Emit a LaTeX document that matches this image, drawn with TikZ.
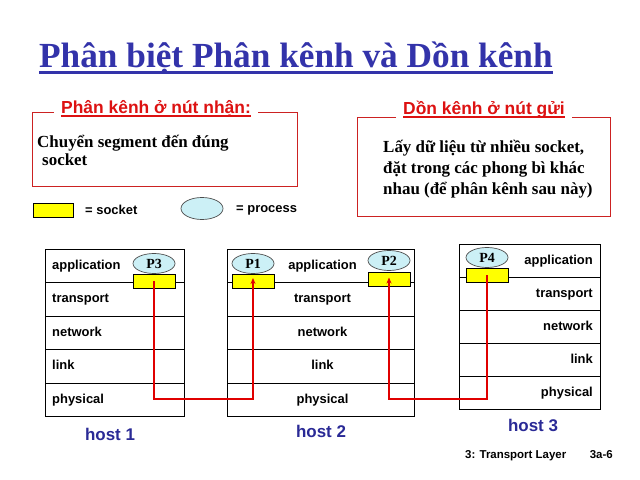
\documentclass[tikz,border=0pt]{standalone}
\usepackage{fontspec}
\setmainfont{Liberation Serif}
\newfontfamily\hsans{Liberation Sans}
\usetikzlibrary{arrows.meta,shapes.geometric}

\definecolor{titleblue}{HTML}{3333AA}
\definecolor{hostblue}{HTML}{2A2A96}
\definecolor{headred}{HTML}{DD1111}
\definecolor{boxred}{HTML}{CC2222}
\definecolor{wirered}{HTML}{E00000}
\definecolor{procfill}{HTML}{CCF0F6}
\definecolor{sockfill}{HTML}{FFFF00}

\begin{document}
\begin{tikzpicture}[x=1bp,y=-1bp,
  titletext/.style={inner sep=0pt, text=titleblue, font=\fontsize{35.4}{40}\selectfont\bfseries},
  headtext/.style={inner xsep=7bp, inner ysep=0pt, text=headred, font=\hsans\fontsize{17.5}{20}\selectfont\bfseries},
  bodytext/.style={inner sep=0pt, align=left, font=\fontsize{17}{19}\selectfont\bfseries},
  framebox/.style={draw=boxred, line width=1bp},
  layer/.style={draw=black, line width=1bp, minimum height=33.5bp, inner sep=0pt},
  layertext/.style={inner sep=0pt, text height=9.5bp, text depth=3bp, font=\hsans\fontsize{13}{15}\selectfont\bfseries},
  socket/.style={draw=black, line width=0.7bp, fill=sockfill, minimum width=42bp, minimum height=14bp, inner sep=0pt},
  proc/.style={ellipse, draw=black!70, line width=0.7bp, fill=procfill, minimum width=42bp, minimum height=20bp, inner sep=0pt, font=\fontsize{14}{16}\selectfont\bfseries},
  conn/.style={draw=wirered, line width=1.6bp},
  hostlabel/.style={inner sep=0pt, text=hostblue, font=\hsans\fontsize{17}{20}\selectfont\bfseries},
  legendtext/.style={inner sep=0pt, font=\hsans\fontsize{13}{15}\selectfont\bfseries},
  foot/.style={inner sep=0pt, font=\hsans\fontsize{11.5}{13}\selectfont\bfseries}
]
\fill[white] (0,0) rectangle (640,480);
\useasboundingbox (0,0) rectangle (640,480);

% title with underline
\node[titletext, anchor=base west] (title) at (39,68) {Phân biệt Phân kênh và Dồn kênh};
\draw[titleblue, line width=2.4bp] ([yshift=-4.5bp]title.base west) -- ([yshift=-4.5bp]title.base east);

% left frame: demultiplexing
\node[headtext, anchor=base] (lhead) at (156,114) {Phân kênh ở nút nhận:};
\draw[headred, line width=1.3bp] ([xshift=7bp,yshift=-2bp]lhead.base west) -- ([xshift=-7bp,yshift=-2bp]lhead.base east);
\coordinate (ltl) at (32,113);
\coordinate (lbr) at (297,187);
\draw[framebox] (lhead.west |- ltl) -- (ltl) -- (ltl |- lbr) -- (lbr) -- (lbr |- ltl) -- (lhead.east |- ltl);
% base anchor of a multi-line node sits on its last line
\node[bodytext, anchor=base west] (ltext) at (37,166) {Chuyển segment đến đúng\\\hspace*{5bp}socket};

% right frame: multiplexing
\node[headtext, anchor=base] (rhead) at (484,115) {Dồn kênh ở nút gửi};
\draw[headred, line width=1.3bp] ([xshift=7bp,yshift=-2bp]rhead.base west) -- ([xshift=-7bp,yshift=-2bp]rhead.base east);
\coordinate (rtl) at (357,118);
\coordinate (rbr) at (610,217);
\draw[framebox] (rhead.west |- rtl) -- (rtl) -- (rtl |- rbr) -- (rbr) -- (rbr |- rtl) -- (rhead.east |- rtl);
\node[bodytext, anchor=base west, font=\fontsize{17}{21.5}\selectfont\bfseries] (rtext) at (383,195)
  {Lấy dữ liệu từ nhiều socket,\\đặt trong các phong bì khác\\nhau (để phân kênh sau này)};

% legend
\node[socket, minimum width=40bp] (lsock) at (53,210) {};
\node[legendtext, anchor=west] (lsocktxt) at (85,210) {= socket};
\node[proc, minimum width=42bp, minimum height=22bp] (lproc) at (202,208.5) {};
\node[legendtext, anchor=west] (lproctxt) at (236,210) {= process};

% protocol stacks
\foreach \i/\lab in {0/application,1/transport,2/network,3/link,4/physical}{
  \node[layer, minimum width=139bp, anchor=north west] (ha\i) at (45,{248.5+\i*33.5}) {};
  \node[layertext, anchor=west] (hal\i) at ([xshift=7bp]ha\i.west) {\lab};
  \node[layer, minimum width=187bp, anchor=north west] (hb\i) at (227,{248.5+\i*33.5}) {};
  \node[layertext] (hbl\i) at ([xshift=1.5bp]hb\i.center) {\lab};
  \node[layer, minimum width=141bp, anchor=north west] (hc\i) at (459,{243.5+\i*33}) {};
  \node[layertext, anchor=east] (hcl\i) at ([xshift=-8bp]hc\i.east) {\lab};
}

% sockets and processes
\node[socket] (s3) at (154,281) {};
\node[proc] (p3) at (154,263.5) {P3};
\node[socket] (s1) at (253,281) {};
\node[proc] (p1) at (253,263.5) {P1};
\node[socket] (s2) at (389,279.5) {};
\node[proc] (p2) at (389,260.5) {P2};
\node[socket] (s4) at (487,275) {};
\node[proc] (p4) at (487,257.5) {P4};

% paths between sockets
\coordinate (bus1) at (200,399);
\coordinate (bus2) at (436,399);
\draw[conn, -{Stealth[length=6bp,width=5bp]}] (s3.center) |- (bus1) -| ([yshift=3bp]s1.center);
\draw[conn, -{Stealth[length=6bp,width=5bp]}] (s4.center) |- (bus2) -| ([yshift=2bp]s2.center);

% host names
\node[hostlabel, anchor=base] (host1) at (110,440) {host 1};
\node[hostlabel, anchor=base] (host2) at (321,437) {host 2};
\node[hostlabel, anchor=base] (host3) at (533,431) {host 3};

% footer
\node[foot, anchor=base west] (footl) at (465,458) {3: Transport Layer};
\node[foot, anchor=base east] (footr) at (613,458) {3a-6};
\end{tikzpicture}
\end{document}
